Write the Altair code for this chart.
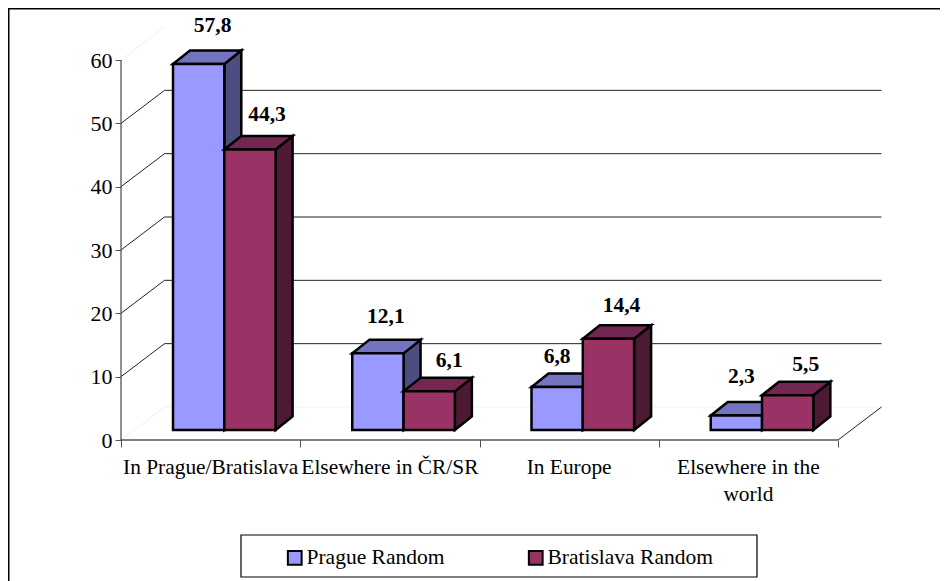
import altair as alt
import pandas as pd

categories = ["In Prague/Bratislava", "Elsewhere in ČR/SR", "In Europe", "Elsewhere in the\nworld"]
series_names = ["Prague Random", "Bratislava Random"]
prague_values = [57.8, 12.1, 6.8, 2.3]
bratislava_values = [44.3, 6.1, 14.4, 5.5]
label_text = {57.8: "57,8", 44.3: "44,3", 12.1: "12,1", 6.1: "6,1", 6.8: "6,8", 14.4: "14,4", 2.3: "2,3", 5.5: "5,5"}
y_ticks = [0, 10, 20, 30, 40, 50, 60]

W, H = 932, 573
PX_X, PX_Y = 179.25, 6.333
X0, Y0 = 113, 432
xs = alt.Scale(domain=[-X0 / PX_X, (W - X0) / PX_X], range=[0, W], nice=False, zero=False)
ys = alt.Scale(domain=[-(H - Y0) / PX_Y, Y0 / PX_Y], range=[H, 0], nice=False, zero=False)

WALL_X, WALL_Y = 43.5 / PX_X, 33 / PX_Y
DEPTH_X, DEPTH_Y = 17 / PX_X, 13.5 / PX_Y
BASE = 10 / PX_Y
BAR_W = 51.3 / PX_X
GROUP_LEFT = 52 / PX_X

FONT = "Liberation Serif"
COLORS = {
    "Prague Random": dict(front="#9999FF", top="#7373BF", side="#4D4D80"),
    "Bratislava Random": dict(front="#993366", top="#732650", side="#4D1A33"),
}
EDGE = dict(stroke="black", strokeWidth=2.5, strokeJoin="miter")
LEG_SIZE = 21.5
LEG_GAP = 79

bars = []
for s, (name, vals) in enumerate(zip(series_names, [prague_values, bratislava_values])):
    for i, v in enumerate(vals):
        left = i + GROUP_LEFT + s * BAR_W
        bars.append(dict(series=name, cat=f"c{i}", value=v, x=left, x2=left + BAR_W,
                         y=BASE, y2=BASE + v, label=label_text[v]))
bars = pd.DataFrame(bars)


def X(f):
    return alt.X(f, type="quantitative", scale=xs, axis=None)


def Y(f):
    return alt.Y(f, type="quantitative", scale=ys, axis=None)


def faces(name):
    d = bars[bars.series == name].reset_index(drop=True)
    c = COLORS[name]
    side = pd.concat([
        pd.DataFrame(dict(cat=d.cat, px=d.x2, lo=d.y, hi=d.y2)),
        pd.DataFrame(dict(cat=d.cat, px=d.x2 + DEPTH_X, lo=d.y + DEPTH_Y, hi=d.y2 + DEPTH_Y)),
    ], ignore_index=True)
    top = pd.concat([
        pd.DataFrame(dict(cat=d.cat, py=d.y2, a=d.x, b=d.x2)),
        pd.DataFrame(dict(cat=d.cat, py=d.y2 + DEPTH_Y, a=d.x + DEPTH_X, b=d.x2 + DEPTH_X)),
    ], ignore_index=True)
    side_l = alt.Chart(side).mark_area(color=c["side"], orient="vertical", **EDGE).encode(
        x=X("px"), y=Y("lo"), y2="hi", detail="cat:N")
    top_l = alt.Chart(top).mark_area(color=c["top"], orient="horizontal", **EDGE).encode(
        y=Y("py"), x=X("a"), x2="b", detail="cat:N")
    front_l = alt.Chart(d).mark_rect(**EDGE).encode(
        x=X("x"), x2="x2", y=Y("y"), y2="y2",
        color=alt.Color("series:N", scale=alt.Scale(
            domain=series_names, range=[COLORS[n]["front"] for n in series_names]),
            legend=alt.Legend(
                orient="none", legendX=276, legendY=539, direction="horizontal", title=None,
                symbolType="square", symbolSize=190, symbolStrokeColor="black", symbolStrokeWidth=2,
                labelFont=FONT, labelFontSize=LEG_SIZE, labelColor="black", columnPadding=LEG_GAP,
                labelOffset=1, labelLimit=300)),
    )
    return [side_l, top_l, front_l]


# Axes: real axes pushed into the plot by a negative offset
axes_base = alt.Chart(pd.DataFrame(dict(x=[0], y=[0]))).mark_point(opacity=0).encode(
    x=alt.X("x:Q", scale=xs, axis=alt.Axis(
        orient="bottom", offset=-(H - Y0), values=[0, 1, 2, 3, 4], labels=False, domain=False,
        grid=False, title=None, tickColor="#555555", tickSize=7, tickWidth=1)),
    y=alt.Y("y:Q", scale=ys, axis=alt.Axis(
        orient="left", offset=-X0, values=y_ticks, domain=False, grid=False, title=None,
        tickColor="#555555", tickSize=6, tickWidth=1, labelFont=FONT, labelFontSize=22,
        labelColor="black", labelPadding=3)),
)

y_dom = alt.Chart(pd.DataFrame(dict(x=[0], a=[0], b=[60]))).mark_rule(color="#555555", strokeWidth=1.3).encode(
    x=X("x"), y=Y("a"), y2="b")
x_dom = alt.Chart(pd.DataFrame(dict(y=[0], a=[0], b=[4]))).mark_rule(color="black", strokeWidth=1.2).encode(
    y=Y("y"), x=X("a"), x2="b")

levels = pd.DataFrame(dict(v=y_ticks))
levels["wy"] = levels.v + WALL_Y
levels["wx"] = WALL_X
levels["wx2"] = 4 + WALL_X
levels["x0"] = 0.0
strong = levels[(levels.v > 0) & (levels.v < 60)]
faint = levels[levels.v == 0]
faint_d = levels[(levels.v == 0) | (levels.v == 60)]

grid = alt.Chart(strong).mark_rule(color="#222222", strokeWidth=1).encode(x=X("wx"), x2="wx2", y=Y("wy"))
diag = alt.Chart(strong).mark_rule(color="#222222", strokeWidth=1).encode(x=X("x0"), x2="wx", y=Y("v"), y2="wy")
grid_f = alt.Chart(faint).mark_rule(color="#f0f0f0", strokeWidth=1).encode(x=X("wx"), x2="wx2", y=Y("wy"))
diag_f = alt.Chart(faint_d).mark_rule(color="#f0f0f0", strokeWidth=1).encode(x=X("x0"), x2="wx", y=Y("v"), y2="wy")
corner = alt.Chart(pd.DataFrame(dict(a=[4.0], b=[4 + WALL_X], c=[0.0], d=[WALL_Y]))).mark_rule(
    color="#222222", strokeWidth=1).encode(x=X("a"), x2="b", y=Y("c"), y2="d")

# Category labels
cats = pd.DataFrame(dict(label=categories, x=[i + 0.5 for i in range(4)], y=[-4.45] * 4))
cat_text = alt.Chart(cats).mark_text(font=FONT, fontSize=21.4, color="black", baseline="middle",
                                     lineBreak="\n", lineHeight=26.5, align="center").encode(
    x=X("x"), y=Y("y"), text="label:N")

# Value labels, offset from the centre of their bar's top
LABEL_NUDGE = {"57,8": (14, -38), "44,3": (17, -34), "12,1": (8, -36), "6,1": (20, -30),
               "6,8": (0, -30), "14,4": (13, -33), "2,3": (5, -38), "5,5": (18, -30)}
bars["mid"] = (bars.x + bars.x2) / 2
val_layers = []
for _, row in bars.iterrows():
    dx, dy = LABEL_NUDGE[row.label]
    val_layers.append(alt.Chart(bars[bars.label == row.label]).mark_text(
        font=FONT, fontSize=21.5, fontWeight="bold", color="black", dx=dx, dy=dy).encode(
        x=X("mid"), y=Y("y2"), text="label:N"))

# Chart and legend frames
frame_top = alt.Chart(pd.DataFrame(dict(a=[0]))).mark_rule(color="black", strokeWidth=2).encode(
    x=alt.value(0), x2=alt.value(W), y=alt.value(0.5))
frame_left = alt.Chart(pd.DataFrame(dict(a=[0]))).mark_rule(color="black", strokeWidth=2).encode(
    x=alt.value(0.5), y=alt.value(0), y2=alt.value(H))
leg_box = alt.Chart(pd.DataFrame(dict(a=[0]))).mark_rect(fill="white", stroke="black", strokeWidth=1.2).encode(
    x=alt.value(233), x2=alt.value(749), y=alt.value(527), y2=alt.value(569))

layers = [frame_top, frame_left, leg_box, grid_f, diag_f, grid, diag, corner, axes_base, y_dom, x_dom]
for n in series_names:
    layers += faces(n)
layers += [cat_text] + val_layers

chart = alt.layer(*layers).resolve_scale(color="shared").resolve_axis(x="independent", y="independent").properties(
    width=W, height=H, padding=0, autosize=alt.AutoSizeParams(type="none"),
    background="white",
).configure_view(stroke=None)

chart.save("out.html", embed_options={"renderer": "svg", "actions": False})
